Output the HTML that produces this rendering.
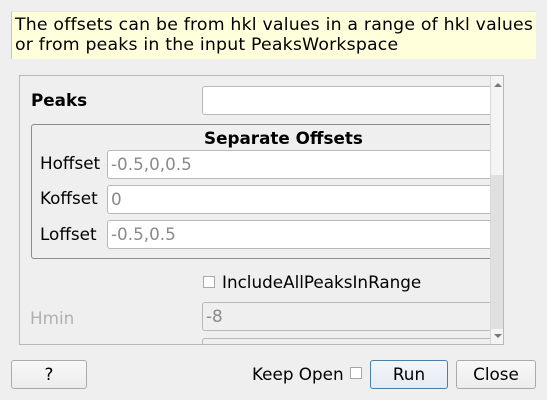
<!DOCTYPE html>
<html><head><style>
body{margin:0;width:547px;height:400px;background:#efefef;font-family:"DejaVu Sans","Liberation Sans",sans-serif;font-size:16.8px;color:#000;position:relative;overflow:hidden}
.a{position:absolute;white-space:nowrap}
.tip{left:11px;top:11px;width:525px;height:48px;background:#ffffdc;border-left:1px solid #c8c8b0;border-top:1px solid #e8e8d0;line-height:20px;padding:3px 0 0 3px;box-sizing:border-box;white-space:nowrap;font-size:17.3px;letter-spacing:0.2px}
.inp{background:#fff;border:1px solid #b8b8b8;border-radius:3px;box-sizing:border-box;color:#8a8a8a;padding-left:3px;line-height:26px}
.btn{background:linear-gradient(#f8f8f8,#ececec);border:1px solid #aaa;border-radius:3px;box-sizing:border-box;text-align:center;line-height:26px}
.cb{width:12px;height:12px;border:1px solid #a8a8a8;background:#fff;box-sizing:border-box}
</style></head><body>
<div class="a tip">The offsets can be from hkl values in a range of hkl values<br>or from peaks in the input PeaksWorkspace</div>
<div class="a" style="left:19px;top:75px;width:485px;height:270px;border:1px solid #b8b8b8;box-sizing:border-box;overflow:hidden">
 <div class="a" style="left:11px;top:14px;font-weight:bold">Peaks</div>
 <div class="a inp" style="left:182px;top:10px;width:290px;height:29px"></div>
 <div class="a" style="left:11px;top:48px;width:500px;height:135px;border:1px solid #8c8c8c;border-radius:3px;box-sizing:border-box"></div>
 <div class="a" style="left:184px;top:52px;font-weight:bold">Separate Offsets</div>
 <div class="a" style="left:20px;top:77px">Hoffset</div>
 <div class="a inp" style="left:87px;top:74px;width:420px;height:29px">-0.5,0,0.5</div>
 <div class="a" style="left:20px;top:112px">Koffset</div>
 <div class="a inp" style="left:87px;top:109px;width:420px;height:29px">0</div>
 <div class="a" style="left:20px;top:148px">Loffset</div>
 <div class="a inp" style="left:87px;top:144px;width:420px;height:29px">-0.5,0.5</div>
 <div class="a cb" style="left:183px;top:200px"></div>
 <div class="a" style="left:202px;top:196px">IncludeAllPeaksInRange</div>
 <div class="a" style="left:10px;top:232px;color:#b0b0b0">Hmin</div>
 <div class="a inp" style="left:182px;top:226px;width:290px;height:29px;background:#efefef">-8</div>
 <div class="a inp" style="left:182px;top:262px;width:290px;height:29px;background:#efefef"></div>
 <div class="a" style="left:470px;top:0;width:14px;height:268px;background:#f4f4f4;border-left:1px solid #d8d8d8"></div>
 <div class="a" style="left:471px;top:99px;width:13px;height:154px;background:#e0e0e0"></div>
 <div class="a" style="left:474px;top:7px;width:0;height:0;border-left:4px solid transparent;border-right:4px solid transparent;border-bottom:4px solid #777"></div>
 <div class="a" style="left:474px;top:258px;width:0;height:0;border-left:4px solid transparent;border-right:4px solid transparent;border-top:4px solid #777"></div>
</div>
<div class="a btn" style="left:11px;top:360px;width:76px;height:29px">?</div>
<div class="a" style="left:252px;top:364px">Keep Open</div>
<div class="a cb" style="left:350px;top:367px"></div>
<div class="a btn" style="left:370px;top:360px;width:78px;height:29px;border-color:#4a7ea8;background:linear-gradient(#f2f6fa,#e4ebf2)">Run</div>
<div class="a btn" style="left:456px;top:360px;width:80px;height:29px">Close</div>
</body></html>
